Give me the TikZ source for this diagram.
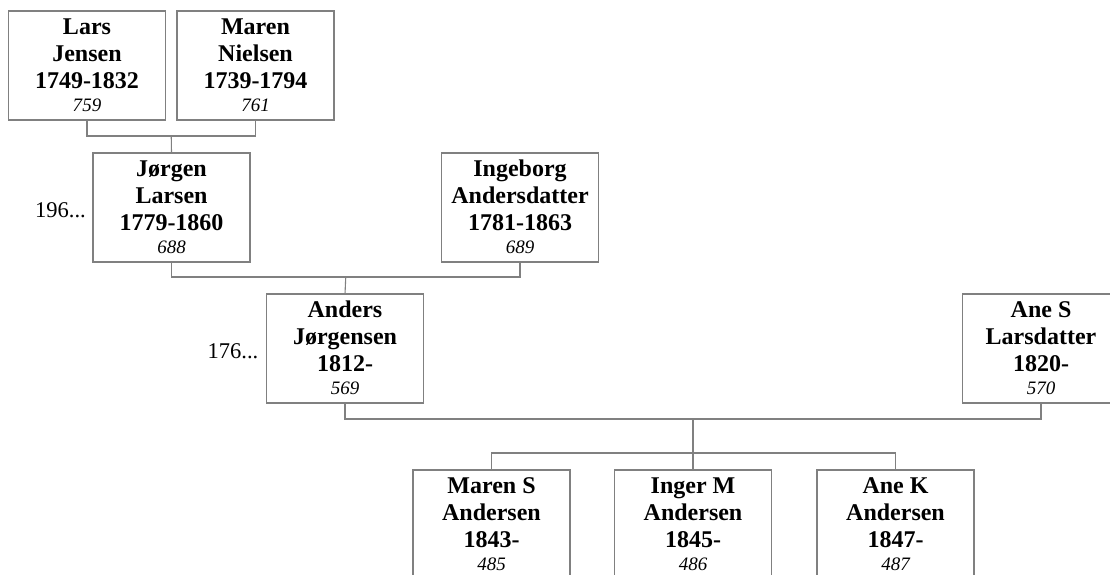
\documentclass[tikz,border=0pt]{standalone}
\usepackage{fontspec}
\setmainfont{Liberation Serif}
\usetikzlibrary{calc}
\newcommand{\ptext}[4]{\parbox[c][109pt][t]{157pt}{\centering\fontsize{24}{27}\selectfont\bfseries\rule{0pt}{23.5pt}#1\\#2\\#3\\[-4pt]{\fontsize{19}{20}\selectfont\mdseries\itshape #4}}}
\definecolor{linegray}{RGB}{128,128,128}
\tikzset{
  person/.style={draw=linegray, line width=1.1pt, inner sep=0pt, outer sep=0pt, fill=white},
  conn/.style={draw=linegray, line width=1.1pt},
  sidelabel/.style={anchor=base east, inner sep=0pt, font=\fontsize{22.5}{24}\selectfont}
}
\begin{document}
\begin{tikzpicture}[x=1pt,y=-1pt]
\useasboundingbox (0,0) rectangle (1110,575);
\clip (0,0) rectangle (1110,575);
% generation 1
\node[person] (lars)  at (87,65.5)    {\ptext{Lars}{Jensen}{1749-1832}{759}};
\node[person] (maren) at (255.5,65.5) {\ptext{Maren}{Nielsen}{1739-1794}{761}};
% generation 2
\node[person] (jorgen)   at (171.5,207.5) {\ptext{Jørgen}{Larsen}{1779-1860}{688}};
\node[person] (ingeborg) at (520,207.5)   {\ptext{Ingeborg}{Andersdatter}{1781-1863}{689}};
% generation 3
\node[person] (anders) at (345,348.5)  {\ptext{Anders}{Jørgensen}{1812-}{569}};
\node[person] (anes)   at (1041,348.5) {\ptext{Ane S}{Larsdatter}{1820-}{570}};
% children
\node[person] (c1) at (491.5,524.5) {\ptext{Maren S}{Andersen}{1843-}{485}};
\node[person] (c2) at (693,524.5)   {\ptext{Inger M}{Andersen}{1845-}{486}};
\node[person] (c3) at (895.5,524.5) {\ptext{Ane K}{Andersen}{1847-}{487}};
% side labels
\node[sidelabel] (jlab) at ([xshift=-7pt,yshift=-10pt]jorgen.west) {196...};
\node[sidelabel] (alab) at ([xshift=-8pt,yshift=-10pt]anders.west) {176...};
% couple lines
\coordinate (m1) at ($(lars.south)!0.5!(maren.south)+(0,16)$);
\draw[conn] (lars.south) -- ++(0,16) -| (maren.south);
\draw[conn] (m1) -- (jorgen.north);
\coordinate (m2) at ($(jorgen.south)!0.5!(ingeborg.south)+(0,15)$);
\draw[conn] (jorgen.south) -- ++(0,15) -| (ingeborg.south);
\draw[conn] (m2) -- (anders.north);
\coordinate (m3) at ($(anders.south)!0.5!(anes.south)+(0,16)$);
\draw[conn] (anders.south) -- ++(0,16) -| (anes.south);
\draw[conn] (m3) -- (c2.north);
\draw[conn] (c1.north) -- ++(0,-17) -| (c3.north);
\end{tikzpicture}
\end{document}
